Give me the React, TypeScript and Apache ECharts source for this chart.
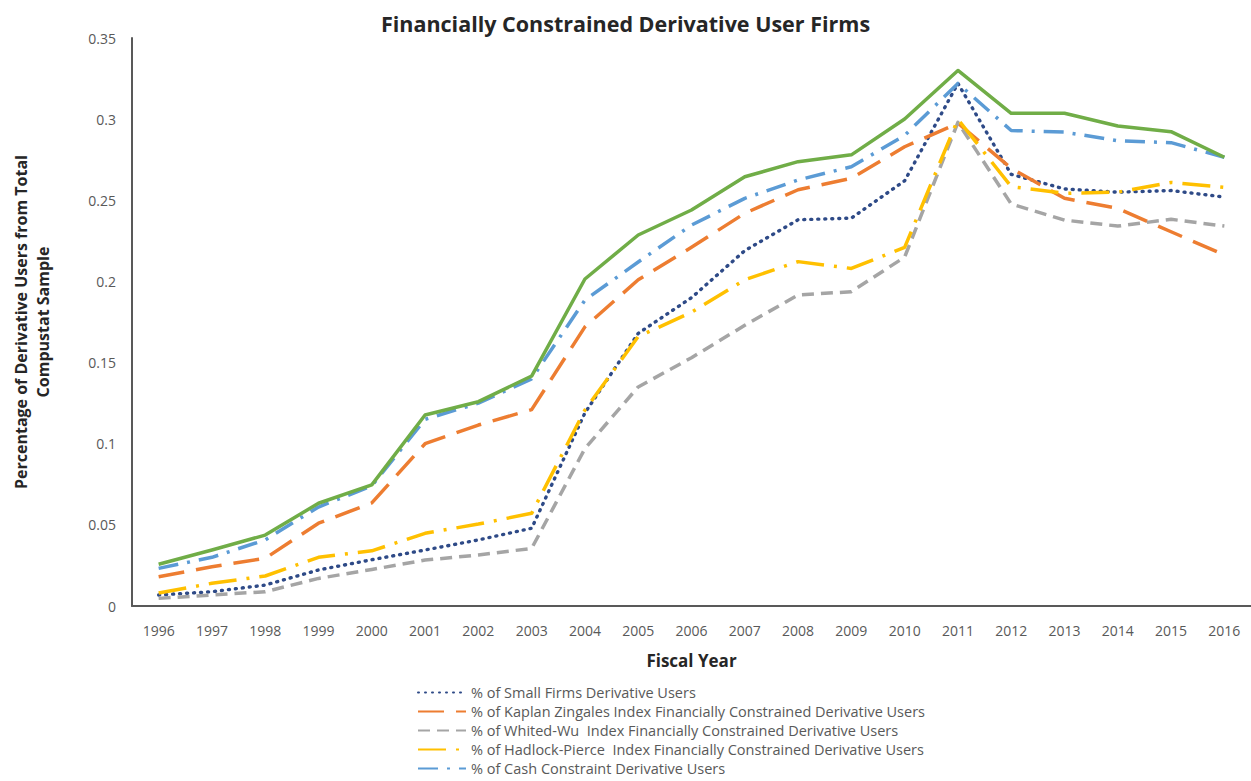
import React, { useEffect, useRef } from "react";
import * as echarts from "echarts";

const years = ["1996","1997","1998","1999","2000","2001","2002","2003","2004","2005","2006","2007","2008","2009","2010","2011","2012","2013","2014","2015","2016"];

const smallFirms = [0.0068, 0.0088, 0.0129, 0.0222, 0.0285, 0.0345, 0.0407, 0.0479, 0.119, 0.168, 0.19, 0.219, 0.238, 0.239, 0.262, 0.322, 0.266, 0.257, 0.255, 0.256, 0.252];
const kaplanZingales = [0.018, 0.0242, 0.0294, 0.051, 0.0635, 0.1, 0.1115, 0.121, 0.172, 0.201, 0.221, 0.242, 0.2565, 0.2635, 0.283, 0.2975, 0.2697, 0.2512, 0.245, 0.2306, 0.2163];
const whitedWu = [0.0047, 0.0068, 0.0088, 0.017, 0.0225, 0.0283, 0.0314, 0.0355, 0.097, 0.135, 0.153, 0.173, 0.1916, 0.1937, 0.215, 0.298, 0.2477, 0.2378, 0.2341, 0.2383, 0.2341];
const hadlockPierce = [0.008, 0.014, 0.0185, 0.03, 0.034, 0.0448, 0.0505, 0.0571, 0.1208, 0.166, 0.181, 0.201, 0.2122, 0.208, 0.221, 0.2999, 0.2584, 0.2543, 0.255, 0.261, 0.258];
const cashConstraint = [0.0232, 0.03, 0.0407, 0.061, 0.074, 0.115, 0.125, 0.14, 0.1885, 0.212, 0.2347, 0.2512, 0.2625, 0.2707, 0.29, 0.322, 0.293, 0.292, 0.2867, 0.2855, 0.2765];
const allUsers = [0.0257, 0.0345, 0.0437, 0.0633, 0.0746, 0.1177, 0.1259, 0.1417, 0.2015, 0.2286, 0.244, 0.2645, 0.2738, 0.278, 0.3001, 0.33, 0.3036, 0.3036, 0.2958, 0.2923, 0.2765];

const names = [
  "% of Small Firms Derivative Users",
  "% of Kaplan Zingales Index Financially Constrained Derivative Users",
  "% of Whited-Wu  Index Financially Constrained Derivative Users",
  "% of Hadlock-Pierce  Index Financially Constrained Derivative Users",
  "% of Cash Constraint Derivative Users",
  "% of Derivative Users",
];

const FONT = "'Open Sans', 'Liberation Sans', sans-serif";

export default function App() {
  const ref = useRef<HTMLDivElement>(null);
  useEffect(() => {
    if (!ref.current) return;
    const chart = echarts.init(ref.current, null, { renderer: "svg" });
    const mk = (name: string, data: number[], color: string, type: any, width: number, cap: any = "butt") => ({
      name,
      type: "line",
      data,
      symbol: "none",
      showSymbol: false,
      lineStyle: { color, width, type, cap, join: "round" },
      itemStyle: { color },
      emphasis: { disabled: true },
    });
    chart.setOption({
      animation: false,
      textStyle: { fontFamily: FONT },
      title: {
        text: "Financially Constrained Derivative User Firms",
        left: "center",
        top: 7,
        textStyle: { fontFamily: FONT, fontSize: 21.5, fontWeight: "bold", color: "#262626" },
      },
      grid: { left: 132, right: 0, top: 38, bottom: 175, containLabel: false },
      legend: {
        orient: "vertical",
        left: 417,
        top: 685,
        height: 120,
        padding: 0,
        itemWidth: 48,
        itemHeight: 14,
        itemGap: 4,
        data: names.slice(0, 5),
        itemStyle: { opacity: 0 },
        textStyle: { fontFamily: FONT, fontSize: 14.5, color: "#595959", lineHeight: 14 },
        selectedMode: false,
      },
      xAxis: {
        type: "category",
        data: years,
        boundaryGap: true,
        name: "Fiscal Year",
        nameLocation: "middle",
        nameGap: 46,
        nameTextStyle: { fontFamily: FONT, fontSize: 17, fontWeight: "bold", color: "#262626" },
        axisLine: { lineStyle: { color: "#595959", width: 2 } },
        axisTick: { show: false },
        axisLabel: { fontFamily: FONT, fontSize: 14, color: "#595959", margin: 17 },
        splitLine: { show: false },
      },
      yAxis: {
        type: "value",
        min: 0,
        max: 0.35,
        interval: 0.05,
        name: "Percentage of Derivative Users from Total\nCompustat Sample",
        nameLocation: "middle",
        nameGap: 78,
        nameTextStyle: { fontFamily: FONT, fontSize: 16, fontWeight: "bold", color: "#262626", lineHeight: 22 },
        axisLine: { show: true, lineStyle: { color: "#595959", width: 2 } },
        axisTick: { show: false },
        axisLabel: { fontFamily: FONT, fontSize: 14, color: "#595959", margin: 16 },
        splitLine: { show: false },
      },
      series: [
        mk(names[0], smallFirms, "#2E4A87", [1, 6], 3.4, "round"),
        mk(names[1], kaplanZingales, "#ED7D31", [26, 12], 3.5),
        mk(names[2], whitedWu, "#A5A5A5", [12, 7], 3.5),
        mk(names[3], hadlockPierce, "#FFC000", [28, 10, 3, 10], 3.5),
        mk(names[4], cashConstraint, "#5B9BD5", [20, 9, 3, 9], 3.5),
        mk(names[5], allUsers, "#70AD47", "solid", 3.5),
      ],
    });
    return () => chart.dispose();
  }, []);
  return (
    <div
      ref={ref}
      style={{ position: "fixed", left: 0, top: 0, width: 1251, height: 781, background: "#fff" }}
    />
  );
}
